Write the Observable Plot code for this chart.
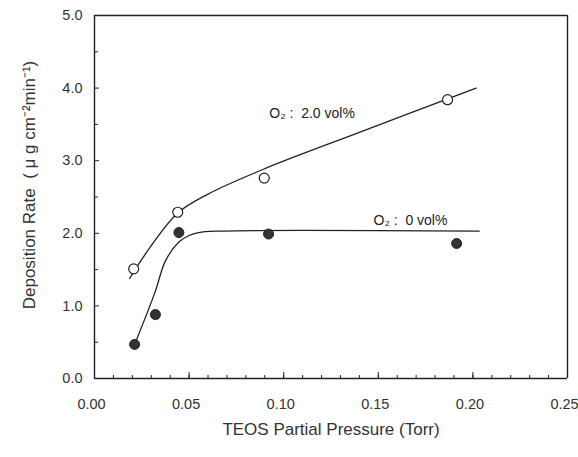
<!DOCTYPE html>
<html><head><meta charset="utf-8">
<script src="https://cdn.jsdelivr.net/npm/d3@7"></script>
<script src="https://cdn.jsdelivr.net/npm/@observablehq/plot@0.6"></script>
<style>body{margin:0;background:#fff}</style>
</head><body><div id="chart"></div>
<script>
// Measured points
const openX = [0.0207, 0.044, 0.0897, 0.1866];
const openY = [1.51, 2.29, 2.76, 3.84];
const filledX = [0.0212, 0.0322, 0.0446, 0.092, 0.1914];
const filledY = [0.47, 0.88, 2.01, 1.99, 1.86];
// Fitted curves as drawn
const openCurveX = [0.0186, 0.03, 0.044, 0.06, 0.09, 0.14, 0.2017];
const openCurveY = [1.38, 1.83, 2.28, 2.54, 2.89, 3.39, 4.0];
const filledCurveX = [0.0223, 0.032, 0.0375, 0.0446, 0.05, 0.055, 0.065, 0.2033];
const filledCurveY = [0.54, 1.19, 1.62, 1.88, 1.97, 2.01, 2.03, 2.03];
// Axes
const xDomain = [0, 0.25];
const yDomain = [0, 5];
const xMajor = [0, 0.05, 0.10, 0.15, 0.20, 0.25];
const xMajorLabels = ["0.00", "0.05", "0.10", "0.15", "0.20", "0.25"];
const xMinor = d3.range(0, 26).map(i => i / 100);
const yMajor = [0, 1, 2, 3, 4, 5];
const yMajorLabels = ["0.0", "1.0", "2.0", "3.0", "4.0", "5.0"];
const yMinor = [0.5, 1.5, 2.5, 3.5, 4.5];
const seriesLabels = ["O₂ :  2.0 vol%", "O₂ :  0 vol%"];
const labelX = [0.1150, 0.1670];
const labelY = [3.65, 2.18];
const xTitle = "TEOS Partial Pressure (Torr)";
const yTitle = "Deposition Rate  ( μ g cm⁻²min⁻¹)";

const zip = (xs, ys) => xs.map((x, i) => ({x, y: ys[i]}));
const openPts = zip(openX, openY), filledPts = zip(filledX, filledY);
const openCurve = zip(openCurveX, openCurveY), filledCurve = zip(filledCurveX, filledCurveY);
const lbls = seriesLabels.map((t, i) => ({t, x: labelX[i], y: labelY[i]}));

const W = 578, H = 457, mL = 94, mR = 11, mT = 15, mB = 79;
const fw = W - mL - mR, fh = H - mT - mB;
const font = "'Liberation Sans', Arial, sans-serif";
const ink = "#222";
const chart = Plot.plot({
  width: W, height: H,
  marginLeft: mL, marginRight: mR, marginTop: mT, marginBottom: mB,
  style: {fontFamily: font, background: "#fff", color: ink},
  x: {domain: xDomain, axis: null},
  y: {domain: yDomain, axis: null},
  marks: [
    // frame
    Plot.ruleX(xDomain, {stroke: ink, strokeWidth: 1.4}),
    Plot.ruleY(yDomain, {stroke: ink, strokeWidth: 1.4}),
    // inward ticks
    Plot.tickX(xMinor, {x: d => d, insetTop: fh - 3, stroke: ink}),
    Plot.tickX(xMajor, {x: d => d, insetTop: fh - 6, stroke: ink}),
    Plot.tickY(yMinor, {y: d => d, insetRight: fw - 4, stroke: ink}),
    Plot.tickY(yMajor, {y: d => d, insetRight: fw - 5, stroke: ink}),
    // tick labels
    Plot.axisX({ticks: xMajor, tickSize: 0, tickPadding: 20, dx: -3, tickFormat: (d, i) => xMajorLabels[i], fontSize: 14.5, fill: "#333", label: null}),
    Plot.axisY({ticks: yMajor, tickSize: 0, tickPadding: 12, tickFormat: (d, i) => yMajorLabels[i], fontSize: 14.5, fill: "#333", label: null}),
    // curves and data
    Plot.line(openCurve, {x: "x", y: "y", curve: "catmull-rom", stroke: ink, strokeWidth: 1.3}),
    Plot.line(filledCurve, {x: "x", y: "y", curve: "catmull-rom", stroke: ink, strokeWidth: 1.3}),
    Plot.dot(openPts, {x: "x", y: "y", r: 5, fill: "#fff", stroke: ink, strokeWidth: 1.2}),
    Plot.dot(filledPts, {x: "x", y: "y", r: 5, fill: "#333", stroke: ink, strokeWidth: 1}),
    Plot.text(lbls, {x: "x", y: "y", text: "t", fontSize: 14, fill: ink}),
    // titles
    Plot.text([xTitle], {frameAnchor: "bottom", dy: 56, fontSize: 17, fill: "#333"}),
    Plot.text([yTitle], {frameAnchor: "left", textAnchor: "middle", dx: -65, dy: -12, rotate: -90, fontSize: 17, fill: "#333"})
  ]
});
document.getElementById("chart").appendChild(chart);
</script></body></html>
